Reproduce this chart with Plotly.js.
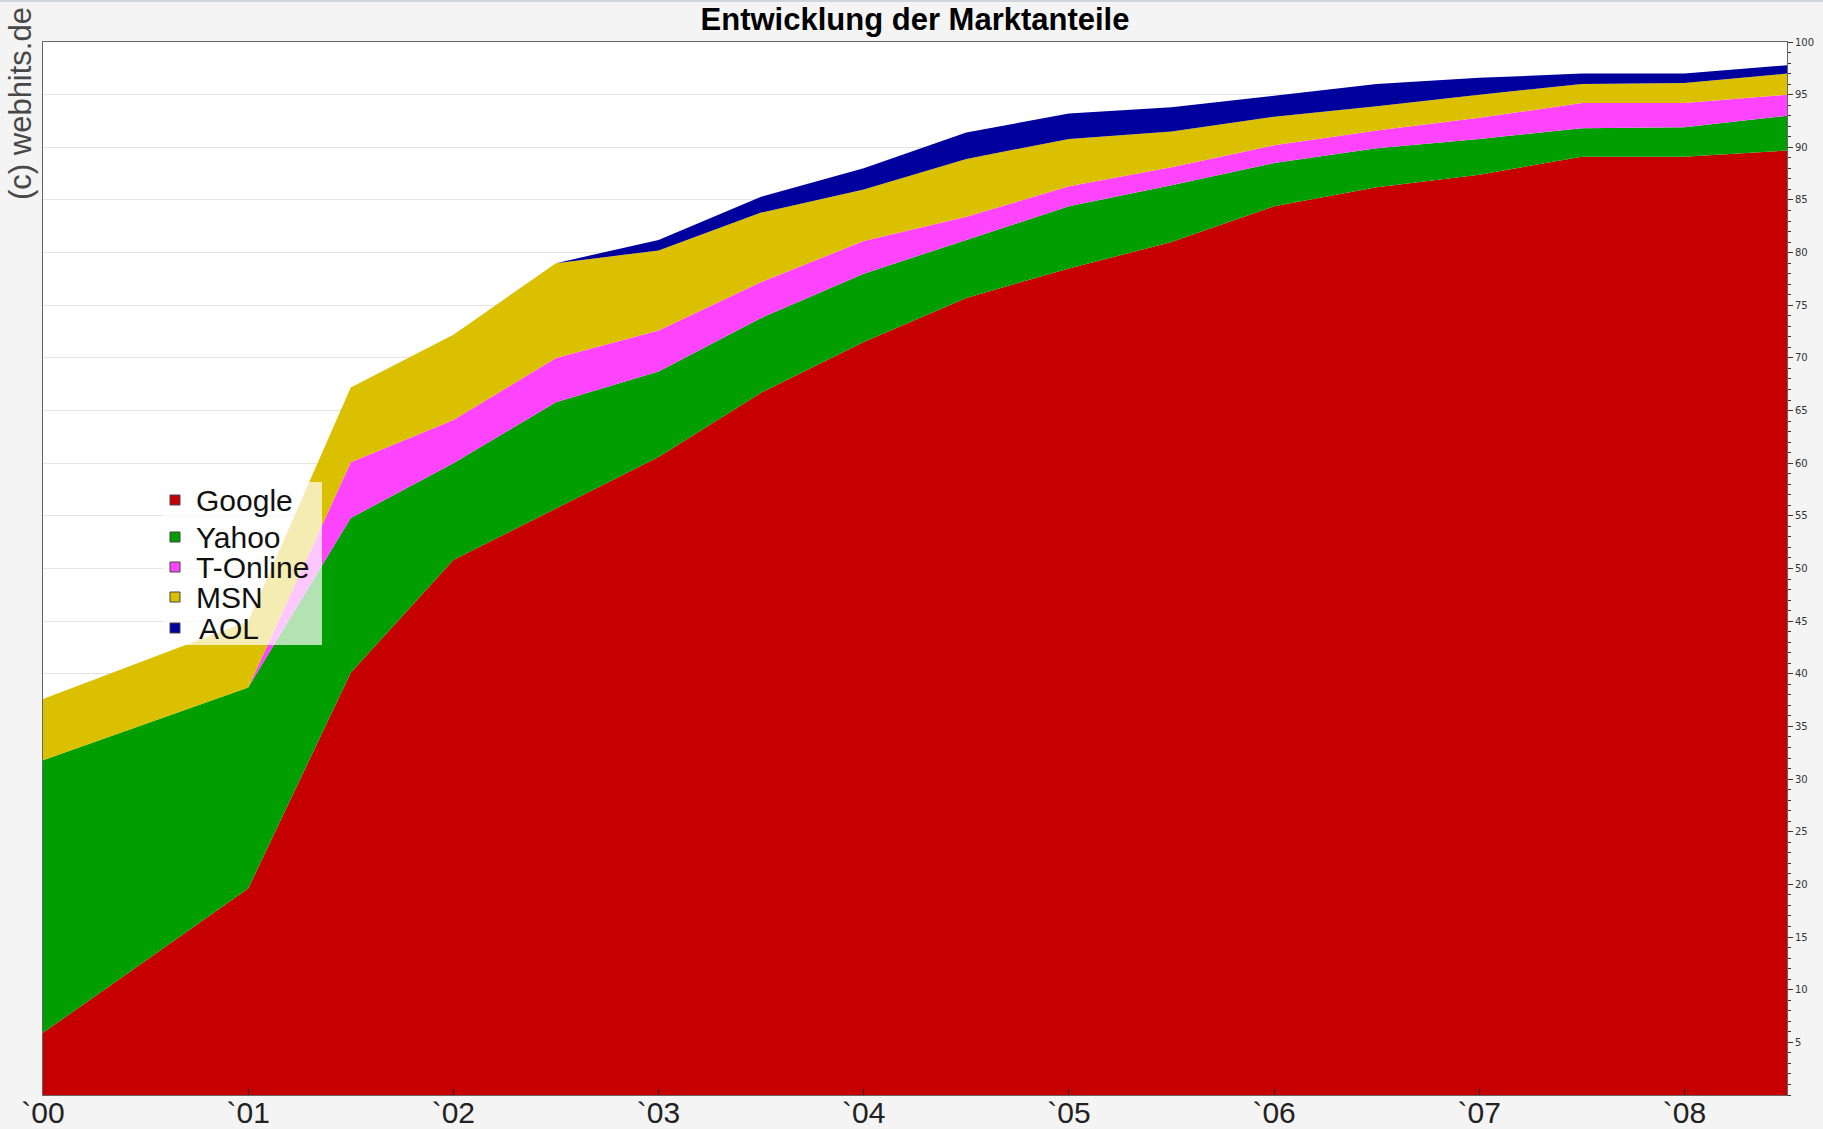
<!DOCTYPE html>
<html>
<head>
<meta charset="utf-8">
<script src="https://cdn.plot.ly/plotly-3.0.1.min.js"></script>
<style>
  html, body { margin: 0; padding: 0; background: #f4f4f4; }
  #chart { width: 1823px; height: 1129px; }
</style>
</head>
<body>
<div id="chart"></div>
<script>
// ---- data ----
const years = [2000, 2001, 2001.5, 2002, 2002.5, 2003, 2003.5, 2004, 2004.5, 2005, 2005.5, 2006, 2006.5, 2007, 2007.5, 2008, 2008.5];
const seriesNames = ["Google", "Yahoo", "T-Online", "MSN", "AOL"];
const google  = [5.9, 19.6, 40.1, 50.8, 55.7, 60.6, 66.7, 71.5, 75.7, 78.5, 81.0, 84.4, 86.2, 87.4, 89.1, 89.1, 89.7];
const yahoo   = [25.9, 19.1, 14.7, 9.2, 10.1, 8.1, 7.1, 6.5, 5.5, 5.9, 5.4, 4.1, 3.7, 3.4, 2.7, 2.8, 3.3];
const tonline = [0, 0, 5.3, 4.1, 4.2, 3.9, 3.4, 3.1, 2.2, 1.9, 1.7, 1.7, 1.7, 2.0, 2.4, 2.3, 2.0];
const msn     = [5.8, 6.3, 7.1, 8.1, 9.0, 7.6, 6.6, 4.9, 5.5, 4.5, 3.4, 2.7, 2.3, 2.2, 1.8, 1.9, 2.0];
const aol     = [0, 0, 0, 0, 0, 1.0, 1.5, 2.0, 2.5, 2.4, 2.3, 2.0, 2.1, 1.6, 1.0, 0.9, 0.8];
const xTickVals = [2000, 2001, 2002, 2003, 2004, 2005, 2006, 2007, 2008];
const xTickText = ["`00", "`01", "`02", "`03", "`04", "`05", "`06", "`07", "`08"];
const yTickVals = [5, 10, 15, 20, 25, 30, 35, 40, 45, 50, 55, 60, 65, 70, 75, 80, 85, 90, 95, 100];

// ---- styling ----
const colors = ["#c60000", "#009e00", "#ff44ff", "#dbc000", "#00009c"];
const seriesValues = [google, yahoo, tonline, msn, aol];

const W = 1823, H = 1129;
const M = { l: 43, r: 36, t: 42, b: 34 };
const PW = W - M.l - M.r, PH = H - M.t - M.b;
const px2x = p => (p - M.l) / PW;           // page x pixel -> paper x
const py2y = p => (H - M.b - p) / PH;       // page y pixel -> paper y

const traces = seriesValues.map((vals, i) => ({
  type: "scatter",
  x: years,
  y: vals,
  name: seriesNames[i],
  stackgroup: "one",
  mode: "none",
  fillcolor: colors[i],
  showlegend: false,
  hoverinfo: "x+y+name"
}));

// ---- custom legend (box, swatches, labels) ----
const legendBox = { x0: 163, x1: 322, y0: 482, y1: 645 };
const itemY = [500, 537, 567, 597, 628];
const swatchX = 175, textX = 194, sw = 10;

const shapes = [
  { type: "line", xref: "paper", yref: "paper", x0: px2x(0), x1: px2x(W), y0: py2y(1), y1: py2y(1),
    line: { color: "#cfd6de", width: 2 } },
  { type: "rect", xref: "paper", yref: "paper",
    x0: px2x(legendBox.x0), x1: px2x(legendBox.x1), y0: py2y(legendBox.y1), y1: py2y(legendBox.y0),
    fillcolor: "rgba(255,255,255,0.7)", line: { width: 0 }, layer: "above" }
];
const annotations = [
  { xref: "paper", yref: "paper", x: px2x(21), y: py2y(104), text: "(c) webhits.de",
    textangle: -90, showarrow: false, xanchor: "center", yanchor: "middle",
    font: { family: "Liberation Sans, Arial, sans-serif", size: 31, color: "#484848" } }
];
seriesNames.forEach((nm, i) => {
  shapes.push({ type: "rect", xref: "paper", yref: "paper",
    x0: px2x(swatchX - sw / 2), x1: px2x(swatchX + sw / 2),
    y0: py2y(itemY[i] + sw / 2), y1: py2y(itemY[i] - sw / 2),
    fillcolor: colors[i], line: { color: "#444", width: 1 }, layer: "above" });
  annotations.push({ xref: "paper", yref: "paper", x: px2x(textX + (nm === "AOL" ? 3 : 0)), y: py2y(itemY[i]),
    text: nm, showarrow: false, xanchor: "left", yanchor: "middle",
    font: { family: "Liberation Sans, Arial, sans-serif", size: 30, color: "#111" } });
});

const layout = {
  width: W, height: H,
  margin: M,
  paper_bgcolor: "#f4f4f4",
  plot_bgcolor: "#ffffff",
  showlegend: false,
  title: {
    text: "<b>Entwicklung der Marktanteile</b>",
    xref: "paper", x: 0.5, xanchor: "center",
    yref: "container", y: 1 - 19 / H, yanchor: "middle",
    font: { family: "Liberation Sans, Arial, sans-serif", size: 31, color: "#000" }
  },
  xaxis: {
    range: [2000, 2008.5],
    tickmode: "array", tickvals: xTickVals, ticktext: xTickText,
    ticks: "inside", ticklen: 6, tickcolor: "#222", tickwidth: 1,
    ticklabelstandoff: -9,
    showgrid: false, zeroline: false,
    showline: true, linecolor: "#666", linewidth: 1, mirror: true,
    tickfont: { family: "Liberation Sans, Arial, sans-serif", size: 30, color: "#222" },
    fixedrange: true
  },
  yaxis: {
    range: [0, 100],
    side: "right",
    tickmode: "array", tickvals: yTickVals,
    ticks: "outside", ticklen: 5, tickcolor: "#333", tickwidth: 1,
    minor: { tickmode: "linear", tick0: 0, dtick: 1, ticks: "outside", ticklen: 3, tickcolor: "#333", showgrid: false },
    showgrid: true, gridcolor: "#e4e4e4", gridwidth: 1,
    zeroline: false,
    showline: true, linecolor: "#666", linewidth: 1, mirror: true,
    tickfont: { family: "DejaVu Sans, Verdana, sans-serif", size: 10, color: "#333" },
    automargin: false,
    fixedrange: true
  },
  shapes: shapes,
  annotations: annotations
};

Plotly.newPlot("chart", traces, layout, { displayModeBar: false, staticPlot: true });
</script>
</body>
</html>
